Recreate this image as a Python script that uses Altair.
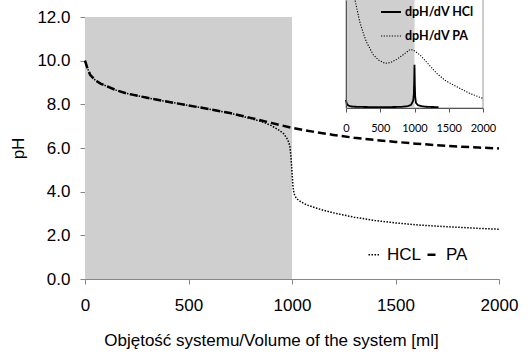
import altair as alt
import pandas as pd

# ---- main titration curves (pH vs volume) ----
pa_x = [0, 10, 25, 50, 75, 100, 150, 200, 300, 400, 500, 600, 700, 800, 900, 1000,
        1100, 1200, 1300, 1400, 1500, 1600, 1700, 1800, 1900, 2000]
pa_ph = [10.0, 9.7, 9.35, 9.1, 8.95, 8.85, 8.65, 8.5, 8.3, 8.12, 7.95, 7.78, 7.6, 7.38, 7.15, 6.92,
         6.75, 6.6, 6.47, 6.37, 6.28, 6.2, 6.13, 6.07, 6.02, 5.98]
hcl_x = [0, 10, 25, 50, 75, 100, 150, 200, 300, 400, 500, 600, 700, 800, 850, 900, 940, 960, 975,
         985, 990, 995, 1000, 1005, 1010, 1020, 1040, 1070, 1100, 1150, 1200, 1300, 1400, 1500,
         1600, 1700, 1800, 1900, 2000]
hcl_ph = [10.0, 9.7, 9.35, 9.1, 8.95, 8.85, 8.65, 8.5, 8.3, 8.12, 7.95, 7.78, 7.6, 7.35, 7.22, 7.03,
          6.8, 6.65, 6.45, 6.25, 6.05, 5.6, 4.9, 4.2, 3.9, 3.7, 3.55, 3.4, 3.3, 3.15, 3.03, 2.83,
          2.68, 2.57, 2.48, 2.42, 2.37, 2.32, 2.28]

# ---- inset derivative curves (dpH/dV, arbitrary units) ----
dhcl_x = [0, 10, 30, 60, 100, 200, 400, 600, 800, 900, 950, 980, 990, 995, 1000, 1005, 1010,
          1020, 1050, 1100, 1200, 1350]
dhcl_v = [0.9, 0.5, 0.3, 0.2, 0.15, 0.12, 0.1, 0.1, 0.12, 0.2, 0.35, 0.8, 1.5, 2.8, 4.8, 2.5, 1.3,
          0.6, 0.3, 0.2, 0.12, 0.1]
dpa_x = [50, 100, 131, 200, 253, 300, 399, 480, 569, 650, 740, 850, 934, 980, 1080, 1200, 1324,
         1450, 1616, 1800, 2000]
dpa_v = [20, 14, 12, 9.6, 8.3, 7.3, 5.9, 5.3, 4.96, 5.05, 5.4, 6.0, 6.5, 6.45, 5.9, 4.9, 3.85,
         3.05, 2.37, 1.65, 1.05]

# shaded (hatched) region and inset frame
shade_x = [0, 1000]
shade_y = [0, 12]
inset_shade_y = [0, 14]
inset_frame_x = [0, 2000]

x_ticks = [0, 500, 1000, 1500, 2000]
y_ticks = [0, 2, 4, 6, 8, 10, 12]
inset_x_ticks = [0, 500, 1000, 1500, 2000]

main_series = ["HCL", "PA"]
inset_series = ["dpH/dV HCl", "dpH/dV PA"]

FONT = "Liberation Sans"
INSET_FONT = "Lato"
AX = "#868686"
SHADE = "#cfcfcf"

df_main = pd.concat([
    pd.DataFrame({"v": hcl_x, "ph": hcl_ph, "s": main_series[0]}),
    pd.DataFrame({"v": pa_x, "ph": pa_ph, "s": main_series[1]}),
])
df_inset = pd.concat([
    pd.DataFrame({"v": dhcl_x, "d": dhcl_v, "s": inset_series[0]}),
    pd.DataFrame({"v": dpa_x, "d": dpa_v, "s": inset_series[1]}),
])
df_shade = pd.DataFrame({"x0": [shade_x[0]], "x1": [shade_x[1]], "y0": [shade_y[0]], "y1": [shade_y[1]]})
df_ishade = pd.DataFrame({"x0": [shade_x[0]], "x1": [shade_x[1]], "y0": [inset_shade_y[0]], "y1": [inset_shade_y[1]]})
df_iframe = pd.DataFrame({"x0": [inset_frame_x[0]], "x1": [inset_frame_x[1]], "y0": [inset_shade_y[0]], "y1": [inset_shade_y[1]]})

xs_main = alt.Scale(domain=[0, 2000], range=[0, 414], nice=False, zero=False)
ys_main = alt.Scale(domain=[0, 12], range=[262, 0], nice=False, zero=False)

x_axis = alt.Axis(orient="bottom", values=x_ticks, format="d",
                  title="Objętość systemu/Volume of the system [ml]",
                  grid=False, domainColor=AX, tickColor=AX, tickSize=5, labelFontSize=17,
                  labelFont=FONT, labelColor="black", labelPadding=13, labelFlush=False,
                  labelOverlap=False, titleFont=FONT,
                  titleFontSize=17, titleFontWeight="normal", titleColor="black",
                  titleX=186, titleY=61, titleBaseline="middle", titleAlign="center")
y_axis = alt.Axis(orient="left", values=y_ticks, format=".1f", title="pH", grid=False, domainColor=AX,
                  tickColor=AX, tickSize=5, labelFontSize=17, labelFont=FONT, labelColor="black",
                  labelPadding=10, labelFlush=False, labelOverlap=False, titleFont=FONT,
                  titleFontSize=17, titleFontWeight="normal",
                  titleColor="black", titleX=-67, titleY=131, titleBaseline="middle",
                  titleAlign="center", titleAngle=270)

shade = alt.Chart(df_shade).mark_rect(fill=SHADE).encode(
    x=alt.X("x0:Q", scale=xs_main, axis=None), x2="x1",
    y=alt.Y("y0:Q", scale=ys_main, axis=None), y2="y1")

lines = alt.Chart(df_main).mark_line(color="black").encode(
    x=alt.X("v:Q", scale=xs_main, axis=x_axis),
    y=alt.Y("ph:Q", scale=ys_main, axis=y_axis),
    strokeDash=alt.StrokeDash("s:N", scale=alt.Scale(domain=main_series, range=[[1.5, 1.5], [8, 4]]),
                              legend=alt.Legend(title=None, orient="none", legendX=281, legendY=229,
                                                direction="horizontal", symbolType="stroke",
                                                symbolSize=144, symbolStrokeWidth=1.8,
                                                symbolStrokeColor="black", labelFontSize=17,
                                                labelFont=FONT, labelColor="black",
                                                columnPadding=0, labelOffset=4)),
    strokeWidth=alt.StrokeWidth("s:N", scale=alt.Scale(domain=main_series, range=[1.5, 2.5]), legend=None),
    order=alt.Order("v:Q"),
)

# ---- inset ----
xs_in = alt.Scale(domain=[0, 2000], range=[261, 398], nice=False, zero=False)
ys_in = alt.Scale(domain=[0, 12], range=[91, -17], nice=False, zero=False)

ix_axis = alt.Axis(orient="bottom", offset=-171, values=inset_x_ticks, format="d", title=None,
                   grid=False, domainColor="#555555", tickColor="#555555", tickSize=4,
                   labelFontSize=11, labelFont=INSET_FONT, labelColor="black", labelPadding=10,
                   labelFlush=False, labelOverlap=False, zindex=2)
iy_axis = alt.Axis(orient="left", offset=-261, labels=False, ticks=False, title=None, grid=False,
                   domainColor="#555555", zindex=2)

iframe = alt.Chart(df_iframe).mark_rect(fill="white", stroke="#9a9a9a", strokeWidth=1).encode(
    x=alt.X("x0:Q", scale=xs_in, axis=None), x2="x1",
    y=alt.Y("y0:Q", scale=ys_in, axis=None), y2="y1")
ishade = alt.Chart(df_ishade).mark_rect(fill=SHADE).encode(
    x=alt.X("x0:Q", scale=xs_in, axis=None), x2="x1",
    y=alt.Y("y0:Q", scale=ys_in, axis=None), y2="y1")
ilines = alt.Chart(df_inset).mark_line(color="black").encode(
    x=alt.X("v:Q", scale=xs_in, axis=ix_axis),
    y=alt.Y("d:Q", scale=ys_in, axis=iy_axis),
    strokeDash=alt.StrokeDash("s:N", scale=alt.Scale(domain=inset_series, range=[[1, 0], [1.2, 1.5]]),
                              legend=alt.Legend(title=None, orient="none", legendX=295, legendY=-16,
                                                direction="vertical", symbolType="stroke",
                                                symbolSize=400, symbolStrokeWidth=1.3,
                                                symbolStrokeColor="black", labelFontSize=12.5,
                                                labelFont=INSET_FONT, labelFontWeight="bold",
                                                labelColor="black", rowPadding=6, labelOffset=3)),
    strokeWidth=alt.StrokeWidth("s:N", scale=alt.Scale(domain=inset_series, range=[1.8, 1.1]), legend=None),
    order=alt.Order("v:Q"),
)

chart = alt.layer(shade, lines, iframe, ishade, ilines).resolve_scale(
    x="independent", y="independent", strokeDash="independent", strokeWidth="independent"
).resolve_axis(x="independent", y="independent").resolve_legend(
    strokeDash="independent", strokeWidth="independent"
).properties(
    width=414, height=262, autosize=alt.AutoSizeParams(type="none"),
    padding={"left": 85, "top": 17, "right": 33, "bottom": 76},
    background="white",
).configure_view(stroke=None)

chart.save("out.html", embed_options={"renderer": "svg", "actions": False})
